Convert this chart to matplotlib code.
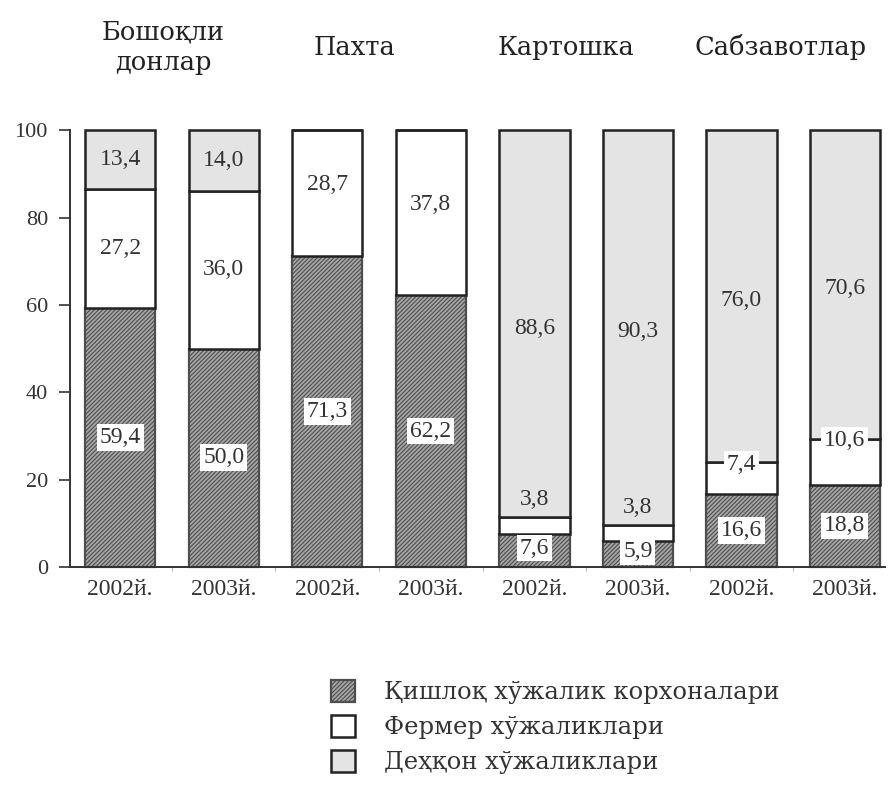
import matplotlib.pyplot as plt
import numpy as np

# data (percent shares)
groups = ["Бошоқли\nдонлар", "Пахта", "Картошка", "Сабзавотлар"]
years = ["2002й.", "2003й.", "2002й.", "2003й.", "2002й.", "2003й.", "2002й.", "2003й."]
korxona = [59.4, 50.0, 71.3, 62.2, 7.6, 5.9, 16.6, 18.8]
fermer = [27.2, 36.0, 28.7, 37.8, 3.8, 3.8, 7.4, 10.6]
dehqon = [13.4, 14.0, 0.0, 0.0, 88.6, 90.3, 76.0, 70.6]
series_names = ["Қишлоқ хўжалик корхоналари", "Фермер хўжаликлари", "Деҳқон хўжаликлари"]

num_font = ['Liberation Serif', 'DejaVu Serif']
word_font = ['DejaVu Serif', 'Liberation Serif']
plt.rcParams['font.family'] = num_font
plt.rcParams['hatch.linewidth'] = 0.8

fig = plt.figure(figsize=(8.88, 7.94), dpi=100)
ax = fig.add_axes([0.079, 0.286, 0.918, 0.55])

x = np.arange(len(years))
w = 0.68
k = np.array(korxona)
f = np.array(fermer)
d = np.array(dehqon)
light = "#e4e4e4"

b1 = ax.bar(x, k, w, color="#a6a6a6", edgecolor="#4e4e4e", hatch="////////", linewidth=1.6, zorder=2)
b2 = ax.bar(x, f, w, bottom=k, color="white", edgecolor="#222222", linewidth=1.8, zorder=2)
b3 = ax.bar(x, d, w, bottom=k + f, color=light, edgecolor="#222222", linewidth=1.8, zorder=2)
for bars in (b1, b2, b3):
    for p in bars:
        p.set_clip_on(False)

txt = dict(ha="center", va="center", fontsize=17, color="#333333", zorder=5)
wbox = dict(boxstyle="square,pad=0.12", fc="white", ec="none")


def fmt(v):
    return f"{v:.1f}".replace(".", ",")


for i in range(len(x)):
    # bottom segment
    ky = k[i] / 2 + (0.5 if k[i] < 10 else 0)
    ax.text(x[i], ky, fmt(k[i]), bbox=wbox, **txt)
    # farmer segment
    top = k[i] + f[i]
    if f[i] < 5:
        ax.text(x[i], top + 4, fmt(f[i]), bbox=dict(wbox, fc=light), **txt)
    elif f[i] < 12:
        ax.text(x[i], top - 0.5, fmt(f[i]), bbox=wbox, **txt)
    else:
        ax.text(x[i], k[i] + f[i] / 2 + (2 if d[i] == 0 else 0), fmt(f[i]), **txt)
    # dehqon segment
    if d[i] > 0:
        ax.text(x[i], top + d[i] / 2 - (1 if d[i] > 50 else 0), fmt(d[i]),
                bbox=dict(wbox, fc=light), **txt)

# group titles above the bars
title_x = [0.415, 2.26, 4.31, 6.38]
for tx, g in zip(title_x, groups):
    ax.text(tx, 119, g, ha="center", va="center", fontsize=18.5, family=word_font,
            color="#222222", linespacing=1.3)

ax.set_xlim(-0.483, 7.39)
ax.set_ylim(0, 100)
ax.set_yticks([0, 20, 40, 60, 80, 100])
ax.tick_params(axis="y", direction="out", length=8, width=1.2, labelsize=16, colors="#333333", pad=8)
ax.set_xticks(x)
ax.set_xticklabels(years)
ax.tick_params(axis="x", length=0, labelsize=17, colors="#333333", pad=9)
ax.set_xticks(x[:-1] + 0.5, minor=True)
ax.tick_params(axis="x", which="minor", length=3, color="#aaaaaa")
for s in ("top", "right"):
    ax.spines[s].set_visible(False)
for s in ("left", "bottom"):
    ax.spines[s].set_linewidth(1.4)
    ax.spines[s].set_color("#333333")

handles = [b1[0], b2[0], b3[0]]
leg = fig.legend(handles, series_names, loc="upper left", bbox_to_anchor=(0.348, 0.171),
                 frameon=False, prop=dict(family=word_font, size=17.5), handlelength=1.0,
                 handleheight=1.0, labelspacing=0.44, handletextpad=1.2)
for t in leg.get_texts():
    t.set_color("#333333")

fig.savefig("out.png", dpi=100)
